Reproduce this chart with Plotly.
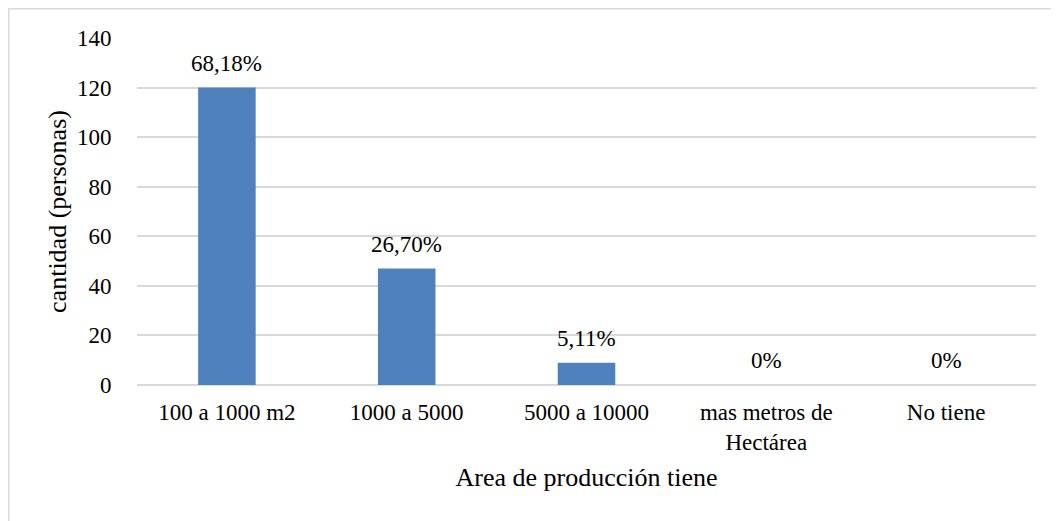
import plotly.graph_objects as go

categories = ["100 a 1000 m2", "1000 a 5000", "5000 a 10000", "mas metros de<br>Hectárea", "No tiene"]
values = [120, 47, 9, 0, 0]
labels = ["68,18%", "26,70%", "5,11%", "0%", "0%"]
y_ticks = [0, 20, 40, 60, 80, 100, 120, 140]

FONT = "Liberation Serif, Times New Roman, serif"

ML, MT, PW, PH = 129, 30, 899, 347
W, H = 1059, 521

fig = go.Figure()
fig.add_trace(go.Bar(
    x=categories, y=values,
    marker=dict(color="#4f81bd", line=dict(width=0)),
    hoverinfo="x+y",
))

for c, v, t in zip(categories, values, labels):
    fig.add_annotation(x=c, y=v, text=t, showarrow=False, yanchor="bottom",
                       yshift=10, font=dict(family=FONT, size=23, color="#000000"))

fig.update_layout(
    width=W, height=H,
    margin=dict(l=ML, r=W - ML - PW, t=MT, b=H - MT - PH, autoexpand=False),
    paper_bgcolor="white", plot_bgcolor="white",
    bargap=0.68, showlegend=False,
    font=dict(family=FONT, size=23, color="#000000"),
    xaxis=dict(
        title=dict(text="Area de producción tiene", font=dict(family=FONT, size=26), standoff=14),
        tickfont=dict(family=FONT, size=23), showgrid=False, showline=False,
        ticks="outside", ticklen=6, tickcolor="rgba(0,0,0,0)",
    ),
    yaxis=dict(
        title=dict(text="cantidad (personas)", font=dict(family=FONT, size=26), standoff=2),
        range=[0, 140], tickvals=y_ticks, tickfont=dict(family=FONT, size=23),
        showgrid=True, gridcolor="#d9d9d9", gridwidth=1.5, zeroline=True,
        zerolinecolor="#d9d9d9", zerolinewidth=1.5, showline=False,
        ticks="outside", ticklen=20, tickcolor="rgba(0,0,0,0)",
    ),
    shapes=[dict(type="rect", xref="paper", yref="paper",
                 x0=-(ML - 0.75) / PW, x1=(W - ML - 0.75) / PW,
                 y0=-(H - MT - PH - 0.75) / PH, y1=1 + (MT - 0.75) / PH,
                 line=dict(color="#d9d9d9", width=1.5), fillcolor="rgba(0,0,0,0)", layer="below")],
)

fig.write_html("out.html")
